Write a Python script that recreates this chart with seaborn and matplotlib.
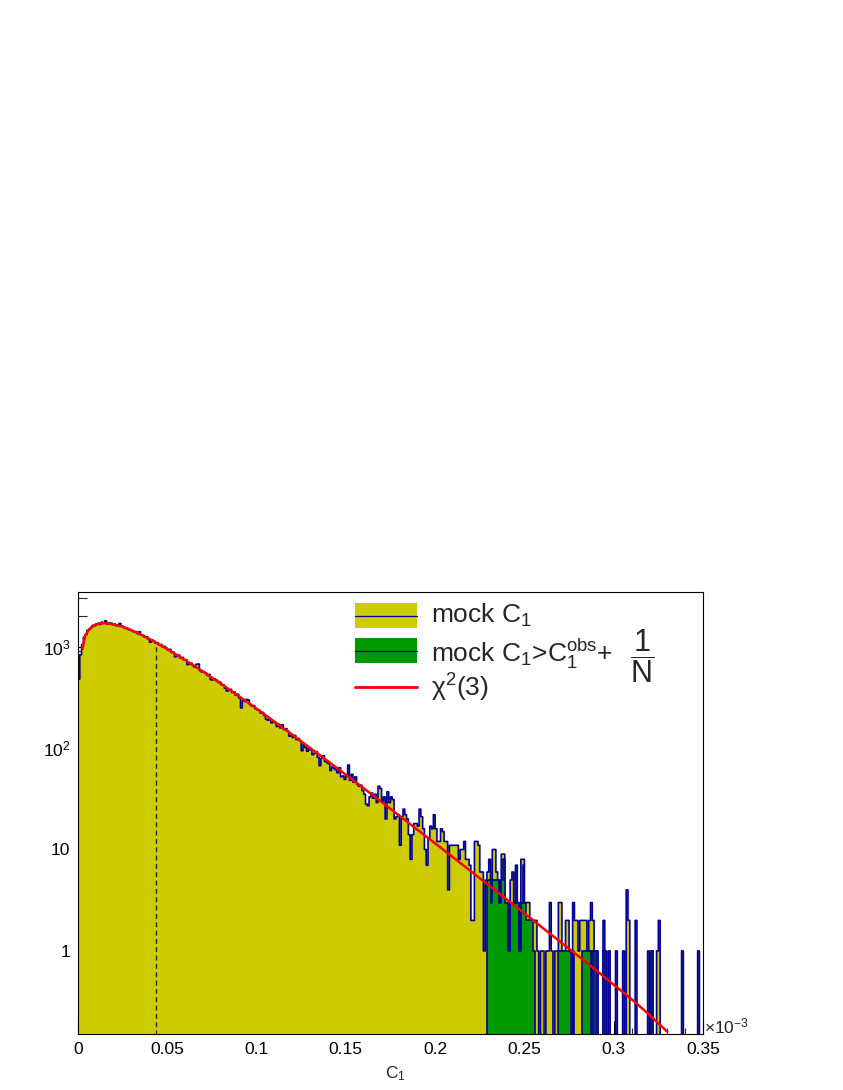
import numpy as np
import pandas as pd
import matplotlib
matplotlib.use("Agg")
import matplotlib.pyplot as plt
import seaborn as sns
from matplotlib.patches import Rectangle
from matplotlib.lines import Line2D
from matplotlib.ticker import FixedLocator, MultipleLocator, LogLocator, NullFormatter

# ---------------- data ----------------
bin_width = 0.001          # C1 in units of 1e-3
mock_counts = [
    478, 829, 1041, 1238, 1312, 1447, 1482, 1539, 1618, 1602,
    1671, 1694, 1652, 1738, 1711, 1790, 1668, 1693, 1702, 1641,
    1665, 1609, 1627, 1690, 1598, 1562, 1513, 1519, 1467, 1470,
    1428, 1391, 1402, 1338, 1396, 1297, 1289, 1236, 1247, 1188,
    1104, 1162, 1131, 1083, 1091, 1038, 1046, 993, 1004, 962,
    921, 938, 874, 880, 792, 801, 821, 769, 781, 736,
    742, 664, 671, 684, 649, 627, 668, 672, 578, 561,
    566, 549, 521, 531, 472, 469, 481, 467, 452, 446,
    421, 418, 388, 364, 371, 378, 352, 357, 331, 338,
    311, 248, 296, 288, 301, 296, 268, 259, 262, 244,
    239, 236, 221, 224, 209, 192, 188, 196, 177, 181,
    178, 163, 171, 158, 169, 152, 155, 147, 131, 134,
    127, 133, 121, 124, 117, 94, 108, 101, 93, 99,
    96, 86, 89, 92, 81, 67, 79, 84, 74, 72,
    70, 60, 65, 63, 61, 57, 64, 52, 53, 49,
    54, 68, 48, 55, 46, 52, 44, 42, 43, 38,
    35, 28, 27, 33, 36, 32, 35, 29, 42, 40,
    30, 33, 20, 37, 29, 33, 31, 20, 21, 22,
    11, 21, 25, 22, 20, 14, 8, 14, 18, 18,
    17, 25, 21, 16, 10, 7, 13, 17, 16, 22,
    16, 12, 12, 16, 15, 12, 12, 4, 11, 11,
    11, 11, 11, 8, 10, 10, 12, 8, 8, 7,
    2, 2, 12, 12, 11, 6, 6, 1, 5, 6,
    8, 5, 10, 10, 6, 5, 3, 9, 9, 3,
    3, 1, 5, 6, 3, 7, 3, 1, 8, 8,
    3, 3, 3, 2, 2, 2, 2, 1, 0, 1,
    1, 0, 1, 1, 3, 1, 0, 1, 1, 3,
    3, 1, 1, 2, 2, 1, 0, 3, 2, 2,
    1, 2, 2, 2, 2, 1, 2, 3, 2, 1,
    1, 0, 0, 0, 2, 1, 0, 1, 0, 0,
    0, 1, 0, 0, 0, 1, 0, 4, 2, 0,
    0, 0, 2, 0, 0, 0, 0, 0, 0, 1,
    0, 1, 0, 0, 1, 2, 0, 0, 0, 0,
    0, 0, 0, 0, 0, 0, 0, 0, 1, 0,
    0, 0, 0, 0, 0, 0, 0, 1, 0, 0,
]
green_first_bin = 229
green_counts = [
    5, 5, 3, 5, 5, 5, 5, 3, 5, 8,
    3, 3, 1, 3, 3, 3, 3, 3, 1, 3,
    7, 3, 2, 2, 2, 2, 1, 0, 0, 0,
    0, 0, 0, 0, 0, 0, 0, 0, 0, 0,
    1, 1, 1, 1, 1, 1, 1, 0, 1, 0,
    0, 0, 0, 1, 1, 1, 1, 1, 0, 1,
    0, 1, 0, 0, 0, 1, 0, 0, 0, 0,
    0, 0, 0, 0, 0, 0, 0, 0, 0, 0,
    0, 0, 0, 0, 0, 0, 0, 0, 0, 0,
    0, 0, 1, 0, 0, 0, 0, 0, 0, 0,
    0, 0, 0, 0, 0, 0, 0, 0, 0, 0,
    0, 0, 0, 0, 0, 0, 0, 0, 0, 0,
    0,
]
chi2_x = [0.0025, 0.004, 0.006, 0.008, 0.010, 0.013, 0.016, 0.020, 0.025, 0.030,
          0.035, 0.040, 0.045, 0.050, 0.060, 0.070, 0.080, 0.090, 0.100, 0.110,
          0.120, 0.130, 0.140, 0.150, 0.160, 0.170, 0.180, 0.190, 0.200, 0.210,
          0.220, 0.230, 0.240, 0.250, 0.260, 0.270, 0.280, 0.290, 0.300, 0.310,
          0.320, 0.330]
chi2_y = [950, 1276, 1460, 1576, 1646, 1694, 1698, 1656, 1562, 1443,
          1316, 1186, 1061, 944, 736, 566, 430, 325, 244, 182,
          135, 100, 74.0, 54.5, 40.1, 29.4, 21.5, 15.7, 11.5, 8.38,
          6.11, 4.44, 3.23, 2.35, 1.70, 1.235, 0.896, 0.649, 0.465, 0.335,
          0.235, 0.16]
c1_obs = 0.0435
c1_obs_height = 1040
x_ticks = [0, 0.05, 0.10, 0.15, 0.20, 0.25, 0.30, 0.35]
x_tick_labels = ["0", "0.05", "0.1", "0.15", "0.2", "0.25", "0.3", "0.35"]
y_ticks = [1, 10, 100, 1000]
y_tick_labels = ["1", "10", "10$^{2}$", "10$^{3}$"]
legend_labels = ["mock C$_1$",
                 "mock C$_1$>C$_1^{\\mathrm{obs}}$+",
                 "\u03c7$^{2}$(3)"]
legend_fraction = "$\\dfrac{1}{\\mathrm{N}}$"
x_title = "C$_1$"
x_exponent = "\u00d710$^{-3}$"

# ---------------- style ----------------
YELLOW = "#cccc00"
GREEN = "#009900"
NAVY = "#000099"
RED = "#ff0000"

sns.set_theme(style="white")
plt.rcParams["font.family"] = ["Liberation Sans", "DejaVu Sans"]
plt.rcParams["mathtext.fontset"] = "custom"
plt.rcParams["mathtext.rm"] = "Liberation Sans"
plt.rcParams["mathtext.it"] = "Liberation Sans:italic"
plt.rcParams["mathtext.bf"] = "Liberation Sans:bold"

W, H = 843, 1090
fig = plt.figure(figsize=(W / 100, H / 100), dpi=100)
fig.patch.set_facecolor("white")

def P(x, y):
    return (x / W, 1 - y / H)

ax = fig.add_axes([78 / W, 1 - 1034 / H, 625 / W, 442 / H])
ax.set_yscale("log")

edges = np.arange(len(mock_counts) + 1) * bin_width
centers = edges[:-1] + bin_width / 2
df_mock = pd.DataFrame({"C1": centers, "count": mock_counts})
df_green = pd.DataFrame({"C1": centers[green_first_bin:], "count": green_counts})

sns.histplot(data=df_mock, x="C1", weights="count", bins=edges.tolist(),
             element="step", fill=True, color=YELLOW, edgecolor=NAVY,
             linewidth=1.2, alpha=1, ax=ax, zorder=2)
sns.histplot(data=df_green, x="C1", weights="count",
             bins=edges[green_first_bin:].tolist(),
             element="step", fill=True, color=GREEN, edgecolor=NAVY,
             linewidth=1.2, alpha=1, ax=ax, zorder=3)
ax.vlines(c1_obs, 0.15, c1_obs_height, colors="#2a2a00", linewidth=1.0,
          linestyles=(0, (3.5, 2.5)), zorder=3.5)
sns.lineplot(x=chi2_x, y=chi2_y, color=RED, linewidth=1.8, ax=ax, zorder=4)

ax.set_xlim(0, 0.35)
ax.set_ylim(0.152, 3446)
ax.set_xlabel("")
ax.set_ylabel("")

ax.xaxis.set_major_locator(FixedLocator(x_ticks))
ax.set_xticklabels(x_tick_labels)
ax.xaxis.set_minor_locator(MultipleLocator(0.01))
ax.yaxis.set_major_locator(FixedLocator(y_ticks))
ax.set_yticklabels(y_tick_labels)
ax.yaxis.set_minor_locator(LogLocator(base=10, subs=np.arange(2, 10), numticks=20))
ax.yaxis.set_minor_formatter(NullFormatter())

ax.tick_params(axis="x", which="major", direction="in", length=9.4, width=0.8,
               labelsize=12.5, pad=5.5, colors="black", top=False, bottom=True)
ax.tick_params(axis="x", which="minor", direction="in", length=4.4, width=0.8,
               top=False, bottom=True)
ax.tick_params(axis="y", which="major", direction="in", length=13, width=0.8,
               labelsize=12.5, pad=5.5, colors="black", left=True, right=False)
ax.tick_params(axis="y", which="minor", direction="in", length=6.5, width=0.8,
               left=True, right=False)
for s in ax.spines.values():
    s.set_visible(True)
    s.set_color("black")
    s.set_linewidth(0.8)
    s.set_zorder(6)

# axis title and exponent
fig.text(*P(395, 1078), x_title, ha="center", va="baseline", fontsize=12.5)
fig.text(*P(704, 1033), x_exponent, ha="left", va="baseline", fontsize=12.5)

# legend (manual, ROOT style)
fig.add_artist(Rectangle(P(355, 628), 62 / W, 25 / H, transform=fig.transFigure,
                         facecolor=YELLOW, edgecolor="none"))
fig.add_artist(Line2D([355 / W, 417 / W], [P(0, 615.5)[1]] * 2, color=NAVY, lw=0.9,
                      transform=fig.transFigure))
fig.add_artist(Rectangle(P(355, 663), 62 / W, 25 / H, transform=fig.transFigure,
                         facecolor=GREEN, edgecolor="none"))
fig.add_artist(Line2D([355 / W, 417 / W], [P(0, 650.5)[1]] * 2, color=NAVY, lw=0.9,
                      transform=fig.transFigure))
fig.add_artist(Line2D([355 / W, 417 / W], [P(0, 687)[1]] * 2, color=RED, lw=2.0,
                      transform=fig.transFigure))
fig.text(*P(431, 623), legend_labels[0], ha="left", va="baseline", fontsize=19)
fig.text(*P(431, 662), legend_labels[1], ha="left", va="baseline", fontsize=19)
fig.text(*P(642, 656), legend_fraction, ha="center", va="center", fontsize=22)
fig.text(*P(431, 697), legend_labels[2], ha="left", va="baseline", fontsize=19)

fig.savefig("out.png", dpi=100)
